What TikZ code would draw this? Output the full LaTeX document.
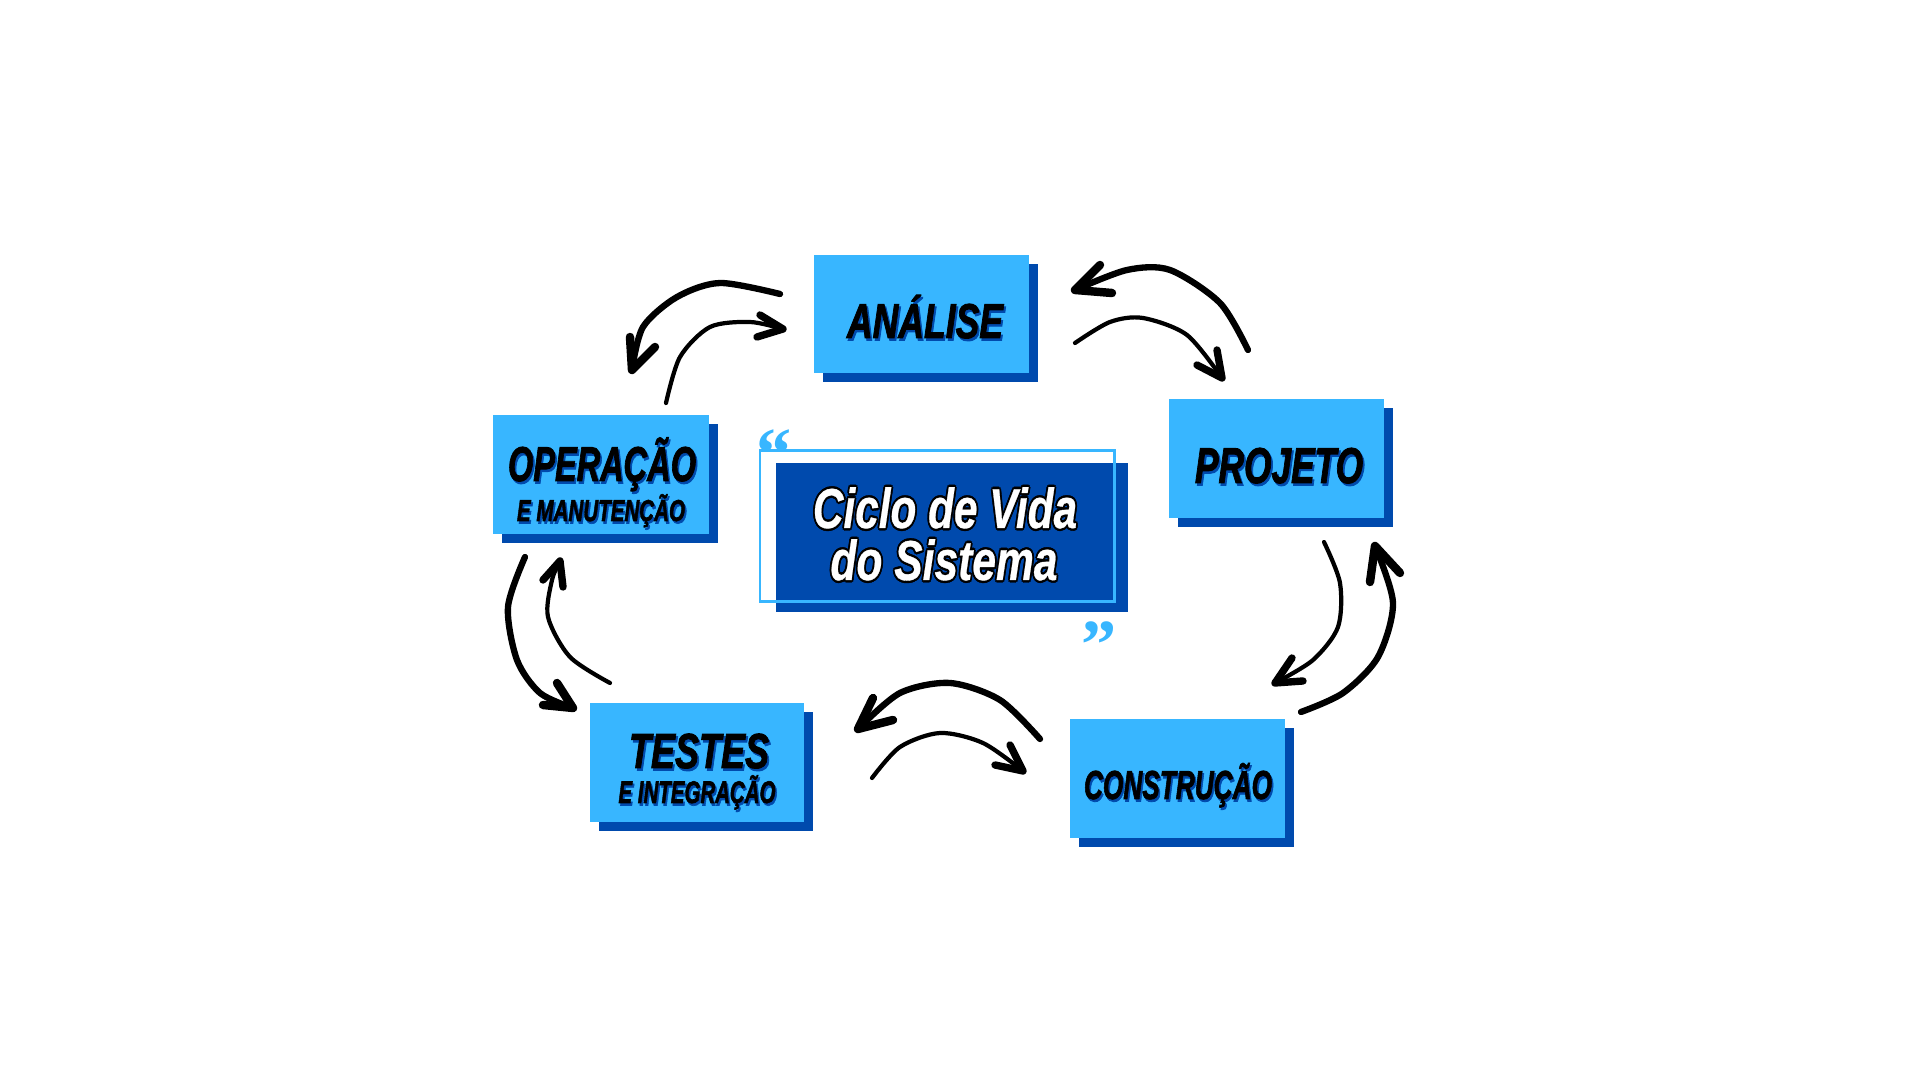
\documentclass[tikz,border=0pt]{standalone}
\usepackage{fontspec}
\usepackage{graphicx}
\setmainfont{Liberation Sans}
\newfontfamily\heavy{Liberation Sans}[BoldItalicFeatures={FakeBold=2}]
\newfontfamily\midf{Liberation Sans}[BoldItalicFeatures={FakeBold=0.6}]
\newfontfamily\quotef{Liberation Serif}
\definecolor{lblue}{HTML}{38B6FF}
\definecolor{dblue}{HTML}{004AAD}
% black text with blue drop shadow
\newcommand\shadtxt[1]{\makebox[0pt][l]{\kern0.7pt\raisebox{-0.7pt}{\color{dblue}#1}}#1}
\newcommand\boxlab[3]{\resizebox{#1}{\height}{\fontsize{#2}{#2}\selectfont\heavy\bfseries\itshape\shadtxt{#3}}}
% white text with black outline
\newcommand\outl[1]{%
\makebox[0pt][l]{\color{black}\kern-.7pt#1}%
\makebox[0pt][l]{\color{black}\kern.7pt#1}%
\makebox[0pt][l]{\color{black}\raisebox{.7pt}{#1}}%
\makebox[0pt][l]{\color{black}\raisebox{-.7pt}{#1}}%
\makebox[0pt][l]{\color{black}\kern.5pt\raisebox{.5pt}{#1}}%
\makebox[0pt][l]{\color{black}\kern-.5pt\raisebox{.5pt}{#1}}%
\makebox[0pt][l]{\color{black}\kern.5pt\raisebox{-.5pt}{#1}}%
\makebox[0pt][l]{\color{black}\kern-.5pt\raisebox{-.5pt}{#1}}%
{\color{white}#1}}
\newcommand\centlab[2]{\resizebox{#1}{\height}{\fontsize{16}{16}\selectfont\midf\bfseries\itshape\outl{#2}}}
\tikzset{
  shaftA/.style={line width=1.8pt, line cap=round, line join=round},
  shaftB/.style={line width=1.2pt, line cap=round, line join=round},
  headA/.style={line width=2.4pt, line cap=round, line join=round},
  headB/.style={line width=2.1pt, line cap=round, line join=round},
  lab/.style={anchor=base, inner sep=0pt, outer sep=0pt},
  quot/.style={anchor=north, inner sep=0pt, text=lblue, font=\fontsize{20}{20}\selectfont\quotef\bfseries},
}
\newcommand\cardbox[4]{%
  \fill[dblue] (#1+9,#2+9) rectangle (#3+9,#4+9);
  \fill[lblue] (#1,#2) rectangle (#3,#4);}
\begin{document}
\begin{tikzpicture}[x=0.01cm, y=-0.01cm]
\useasboundingbox (0,0) rectangle (1920,1080);
\fill[white] (0,0) rectangle (1920,1080);

% cards
\cardbox{814}{255}{1029}{373}
\cardbox{1169}{399}{1384}{518}
\cardbox{493}{415}{709}{534}
\cardbox{590}{703}{804}{822}
\cardbox{1070}{719}{1285}{838}

% labels
\node[lab] (analise) at (925,338) {\boxlab{1.56cm}{13.9}{ANÁLISE}};
\node[lab] (projeto) at (1279,483) {\boxlab{1.68cm}{14.3}{PROJETO}};
\node[lab] (operacao) at (602,481) {\boxlab{1.88cm}{13.9}{OPERAÇÃO}};
\node[lab] (manut) at (601,521) {\boxlab{1.68cm}{8.6}{E MANUTENÇÃO}};
\node[lab] (testes) at (699,768) {\boxlab{1.40cm}{14.0}{TESTES}};
\node[lab] (integr) at (697,803) {\boxlab{1.57cm}{8.9}{E INTEGRAÇÃO}};
\node[lab] (constr) at (1178,799) {\boxlab{1.88cm}{11.5}{CONSTRUÇÃO}};

% center title
\fill[dblue] (776,463) rectangle (1128,612);
\draw[lblue, line width=0.85pt] (760,451) rectangle (1114,602);
\node[lab] (ciclo) at (945,528) {\centlab{2.64cm}{Ciclo de Vida}};
\node[lab] (sistema) at (944,580) {\centlab{2.27cm}{do Sistema}};
\node[quot] (q1) at (774,429) {“};
\node[quot] (q2) at (1099,621) {”};

% arrows ANÁLISE <-> OPERAÇÃO
\coordinate (a1s) at (780,294); \coordinate (a1t) at (632,370);
\draw[shaftA] plot[smooth] coordinates {(a1s) (720,283) (677,297) (643,327) (a1t)};
\draw[headA] (630,337) -- (a1t) -- (655,347);
\coordinate (a2s) at (666,403); \coordinate (a2t) at (783,329);
\draw[shaftB] plot[smooth] coordinates {(a2s) (680,357) (710,327) (750,322) (a2t)};
\draw[headB] (760,315) -- (a2t) -- (757,337);

% arrows ANÁLISE <-> PROJETO
\coordinate (b1s) at (1248,350); \coordinate (b1t) at (1075,290);
\draw[shaftA] plot[smooth] coordinates {(b1s) (1220,303) (1170,270) (1127,270) (b1t)};
\draw[headA] (1100,265) -- (b1t) -- (1112,293);
\coordinate (b2s) at (1075,343); \coordinate (b2t) at (1222,378);
\draw[shaftB] plot[smooth] coordinates {(b2s) (1110,322) (1143,318) (1187,335) (b2t)};
\draw[headB] (1217,350) -- (b2t) -- (1197,365);

% arrows PROJETO <-> CONSTRUÇÃO
\coordinate (c1s) at (1324,542); \coordinate (c1t) at (1275,683);
\draw[shaftB] plot[smooth] coordinates {(c1s) (1340,583) (1338,627) (1313,660) (c1t)};
\draw[headB] (1292,658) -- (c1t) -- (1303,681);
\coordinate (c2s) at (1301,712); \coordinate (c2t) at (1375,546);
\draw[shaftA] plot[smooth] coordinates {(c2s) (1343,693) (1378,657) (1393,603) (c2t)};
\draw[headA] (1370,582) -- (c2t) -- (1400,573);

% arrows CONSTRUÇÃO <-> TESTES
\coordinate (d1s) at (1040,739); \coordinate (d1t) at (858,729);
\draw[shaftA] plot[smooth] coordinates {(d1s) (1000,700) (950,683) (900,693) (d1t)};
\draw[headA] (873,698) -- (d1t) -- (893,720);
\coordinate (d2s) at (872,778); \coordinate (d2t) at (1023,771);
\draw[shaftB] plot[smooth] coordinates {(d2s) (900,747) (940,733) (983,743) (d2t)};
\draw[headB] (1010,745) -- (d2t) -- (995,765);

% arrows TESTES <-> OPERAÇÃO
\coordinate (e1s) at (525,557); \coordinate (e1t) at (573,708);
\draw[shaftA] plot[smooth] coordinates {(e1s) (508,607) (517,660) (540,693) (e1t)};
\draw[headA] (557,683) -- (e1t) -- (543,705);
\coordinate (e2s) at (610,683); \coordinate (e2t) at (560,561);
\draw[shaftB] plot[smooth] coordinates {(e2s) (570,657) (548,617) (552,580) (e2t)};
\draw[headB] (543,580) -- (e2t) -- (563,587);
\end{tikzpicture}
\end{document}
